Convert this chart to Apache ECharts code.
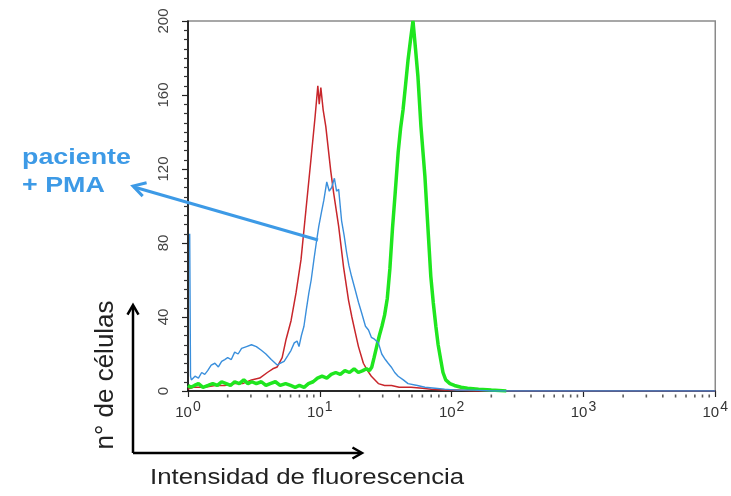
<!DOCTYPE html>
<html>
<head>
<meta charset="utf-8">
<script src="https://cdn.jsdelivr.net/npm/echarts@6/dist/echarts.min.js"></script>
<style>html,body{margin:0;padding:0;background:#fff;}#c{width:731px;height:496px;}</style>
</head>
<body>
<div id="c"></div>
<script>
// ---- data ----
const redX = [1, 1.1, 1.34, 1.6, 1.9, 2.26, 2.6, 3.03, 3.5, 4.0, 4.4, 4.75, 5.18, 5.55, 6.05, 6.6, 7.2, 7.85, 8.56, 9.2, 9.66, 9.9, 10.18, 10.6, 11.1, 12.1, 12.74, 13.9, 15.14, 16.52, 17.5, 18.66, 19.64, 21.4, 23.0, 24.6, 27.8, 31, 35, 40, 49.2, 60, 70, 88.5, 110, 150, 10000];
const redY = [1, 2, 2, 3, 3, 4, 4, 6, 7, 10, 12, 13, 18, 28, 38, 53, 71, 98, 125, 148, 165, 155, 164, 152, 143, 119, 107, 89, 67, 49, 40, 31, 24, 15, 11, 8, 4, 3, 3, 2, 2, 1.5, 1, 0.5, 0.5, 0, 0];

const blueX = [1.03, 1.045, 1.06, 1.13, 1.2, 1.27, 1.34, 1.41, 1.5, 1.6, 1.7, 1.8, 1.9, 2.0, 2.13, 2.26, 2.4, 2.55, 2.78, 3.03, 3.3, 3.6, 3.9, 4.28, 4.75, 5.0, 5.36, 5.7, 6.05, 6.4, 6.72, 6.95, 7.25, 7.58, 7.9, 8.26, 8.6, 9.02, 9.4, 9.82, 10.25, 10.72, 11.29, 11.8, 12.3, 12.9, 13.4, 13.9, 14.63, 15.3, 15.96, 16.6, 17.4, 18.5, 19.64, 20.8, 22.2, 23.4, 24.6, 26, 27.8, 29.5, 31.4, 33, 34.8, 37, 39.3, 43, 46.7, 55, 62.7, 75, 88.5, 110, 149, 200, 10000];
const blueY = [85, 8, 6, 8, 7, 10, 9, 11, 14, 15, 13, 16, 17, 18, 17, 21, 20, 23, 24, 25, 24, 22, 20, 17, 14, 15, 16, 19, 22, 26, 27, 24, 30, 35, 44, 53, 60, 71, 80, 89, 96, 103, 113, 108, 110, 115, 108, 109, 92, 84, 75, 68, 62, 55, 48, 42, 35, 33, 29, 28, 26, 20, 17, 15, 13, 10, 8, 6, 4, 3, 2, 1.5, 1, 0.5, 0.5, 0, 0];

const greenX = [1, 1.05, 1.12, 1.2, 1.3, 1.42, 1.54, 1.67, 1.8, 1.95, 2.1, 2.26, 2.45, 2.65, 2.85, 3.05, 3.3, 3.6, 3.9, 4.2, 4.6, 5.0, 5.5, 6.0, 6.5, 7.0, 7.6, 8.2, 8.9, 9.6, 10.4, 11.3, 12.2, 13.2, 14.3, 15.5, 16.8, 18.2, 19.6, 21.2, 22.6, 23.8, 24.8, 25.8, 27.0, 28.3, 29.6, 31.0, 32.5, 34.0, 35.6, 37.3, 39.3, 41.0, 42.8, 44.8, 46.7, 48.8, 50.9, 53.2, 55.5, 58.5, 62.7, 66.0, 69.5, 72.5, 75.9, 79.0, 82.6, 86.0, 90.2, 97, 105, 118, 132, 160, 200, 260];
const greenY = [3, 2, 3, 4, 2, 3, 4, 3, 5, 4, 3, 5, 4, 6, 4, 5, 4, 5, 3, 4, 5, 3, 4, 3, 2, 3, 2, 4, 5, 7, 8, 7, 9, 10, 9, 11, 10, 12, 10, 11, 12, 11, 13, 18, 24, 30, 35, 41, 50, 66, 88, 107, 129, 142, 152, 166, 179, 190, 200, 185, 170, 143, 116, 89, 62, 48, 35, 25, 17, 10, 6, 4, 3, 2, 1.5, 1, 0.5, 0];

const xMin = 1, xMax = 10000;
const yTicks = [0, 40, 80, 120, 160, 200];
const xMinorTicks = [2,3,4,5,6,7,8,9,20,30,40,50,60,70,80,90,200,300,400,500,600,700,800,900,2000,3000,4000,5000,6000,7000,8000,9000];
const annotation = ['paciente', '+ PMA'];
const yName = 'n° de células';
const xName = 'Intensidad de fluorescencia';

const pairs = (xs, ys) => xs.map((x, i) => [x, ys[i]]);

const chart = echarts.init(document.getElementById('c'), null, {renderer: 'canvas'});
const FONT = '"Liberation Sans", Arial, sans-serif';
const annBlue = '#3d9ae6';

// arrow-head helper for the decorative arrows
function head(tx, ty, fx, fy, len) {
  const dx = fx - tx, dy = fy - ty, L = Math.hypot(dx, dy);
  const ux = dx / L, uy = dy / L, c = Math.cos(Math.PI/6), s = Math.sin(Math.PI/6);
  return [[tx + len*(ux*c - uy*s), ty + len*(ux*s + uy*c)], [tx, ty], [tx + len*(ux*c + uy*s), ty + len*(-ux*s + uy*c)]];
}

chart.setOption({
  animation: false,
  backgroundColor: '#fff',
  grid: {left: 188, right: 12, top: 21, bottom: 105, show: true, borderColor: '#8a8a8a', borderWidth: 1.5, backgroundColor: 'transparent'},
  xAxis: {
    type: 'log', logBase: 10, min: xMin, max: xMax, position: 'bottom',
    axisLine: {show: true, onZero: false, lineStyle: {color: '#000', width: 1.5}},
    axisTick: {show: true, length: 6, lineStyle: {color: '#222', width: 1.2}},
    splitLine: {show: false},
    axisLabel: {
      margin: 6, color: '#333',
      formatter: v => '{b|10}{s|' + Math.round(Math.log10(v)) + '}',
      rich: {b: {fontSize: 15, fontFamily: FONT, color: '#333', padding: [8, 0, 0, 0]}, s: {fontSize: 14, fontFamily: FONT, color: '#333', padding: [0, 0, 2, 1]}}
    }
  },
  yAxis: {
    type: 'value', min: 0, max: 200, interval: 40,
    axisLine: {show: true, onZero: false, lineStyle: {color: '#000', width: 1.5}},
    axisTick: {show: true, length: 6, lineStyle: {color: '#222', width: 1.2}},
    minorTick: {show: true, splitNumber: 8, length: 4, lineStyle: {color: '#333', width: 1.2}},
    splitLine: {show: false},
    axisLabel: {rotate: 90, margin: 17, fontSize: 15, fontFamily: FONT, color: '#444',
      formatter: v => yTicks.includes(v) ? String(v) : ''}
  },
  series: [
    {type: 'line', data: pairs(redX, redY), showSymbol: false, lineStyle: {color: '#c8262b', width: 1.5}, z: 2},
    {type: 'line', data: pairs(greenX, greenY), showSymbol: false, lineStyle: {color: '#1fe61f', width: 3.5}, z: 3},
    {type: 'line', data: pairs(blueX, blueY), showSymbol: false, lineStyle: {color: '#3a8fdc', width: 1.4}, z: 4},
    {type: 'scatter', data: xMinorTicks.map(v => [v, 0]), symbol: 'rect', symbolSize: [1.6, 3], symbolOffset: [0, 5],
      clip: false, silent: true, itemStyle: {color: '#333'}, z: 5}
  ],
  graphic: [
    {type: 'text', left: 22, top: 147, style: {text: annotation[0], font: 'bold 22px ' + FONT, fill: annBlue}, scaleX: 1.22, z: 10},
    {type: 'text', left: 22, top: 175, style: {text: annotation[1], font: 'bold 22px ' + FONT, fill: annBlue}, scaleX: 1.22, z: 10},
    {type: 'line', shape: {x1: 318, y1: 240, x2: 134, y2: 187}, style: {stroke: annBlue, lineWidth: 3}, z: 10},
    {type: 'polyline', shape: {points: head(133, 186, 318, 240, 14)}, style: {stroke: annBlue, lineWidth: 3, fill: null}, z: 10},
    {type: 'line', shape: {x1: 133, y1: 453, x2: 133, y2: 306}, style: {stroke: '#000', lineWidth: 2.5}, z: 10},
    {type: 'polyline', shape: {points: head(133, 305, 133, 453, 11)}, style: {stroke: '#000', lineWidth: 2.5, fill: null}, z: 10},
    {type: 'line', shape: {x1: 133, y1: 453, x2: 361, y2: 453}, style: {stroke: '#000', lineWidth: 2.5}, z: 10},
    {type: 'polyline', shape: {points: head(362, 453, 133, 453, 11)}, style: {stroke: '#000', lineWidth: 2.5, fill: null}, z: 10},
    {type: 'text', x: 106, y: 375, rotation: Math.PI/2, style: {text: yName, font: '26px ' + FONT, fill: '#222', align: 'center', verticalAlign: 'middle'}, z: 10},
    {type: 'text', left: 150, top: 467, style: {text: xName, font: '21.5px ' + FONT, fill: '#222'}, scaleX: 1.2, z: 10}
  ]
});
</script>
</body>
</html>
